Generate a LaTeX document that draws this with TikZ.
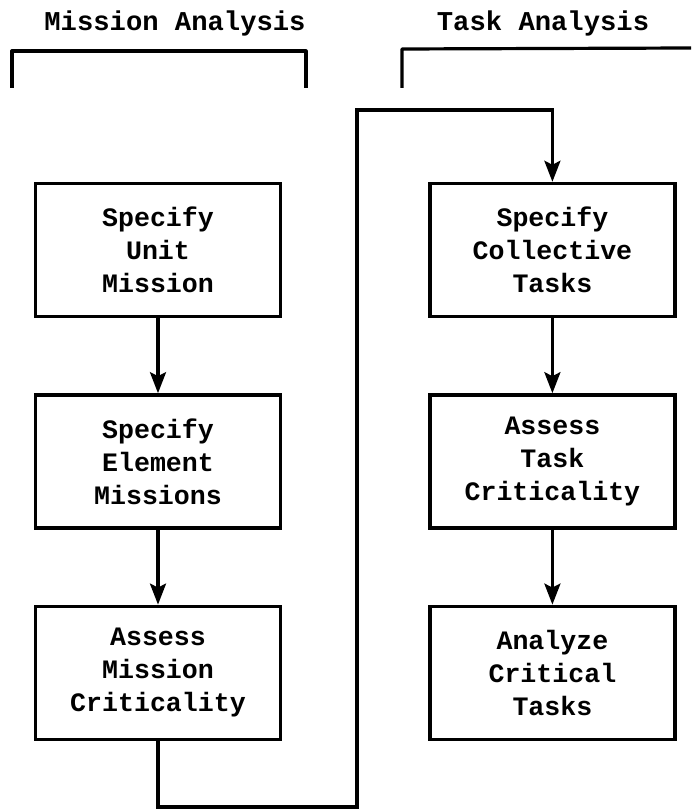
\documentclass[tikz,border=0pt]{standalone}
\usepackage{fontspec}
\usepackage{tikz}
\usetikzlibrary{arrows.meta,calc,positioning}
\newfontfamily\typewriter{Liberation Mono}
\tikzset{%
  arrow/.style={line width=1.6pt,-{Stealth[length=10.5pt,width=8pt,inset=2pt]}},
  box/.style={rectangle,draw,line width=1.7pt,minimum width=122.5pt,minimum height=66.5pt,align=center,font=\typewriter\bfseries\fontsize{13.3}{16.5}\selectfont},
  heading/.style={font=\typewriter\bfseries\fontsize{13.6}{16}\selectfont},
  bracket/.style={line width=1.6pt,line join=round},
}

\begin{document}
\begin{tikzpicture}[node distance=37.5pt and 73pt]
      \useasboundingbox (0,0) rectangle (345.5pt,-406pt);

      \node[heading] (missionHead) at (87.5pt,-11.5pt) {Mission Analysis};
      \node[heading] (taskHead) at (271.5pt,-11.5pt) {Task Analysis};
      \draw[bracket] (6pt,-44pt) -- (6pt,-25.5pt) -- (153pt,-25.5pt) -- (153pt,-44pt);
      \draw[bracket] (201pt,-44pt) -- (201pt,-24.5pt) -- (345.5pt,-24pt);

      \node[box] (unitMission) at (79pt,-125pt) {Specify\\Unit\\Mission};
      \node[box,below=of unitMission] (elementMissions) {Specify\\Element\\Missions};
      \node[box,below=of elementMissions] (missionCrit) {Assess\\Mission\\Criticality};
      \node[box,right=of unitMission] (collectiveTasks) {Specify\\Collective\\Tasks};
      \node[box,below=of collectiveTasks] (taskCrit) {Assess\\Task\\Criticality};
      \node[box,below=of taskCrit] (criticalTasks) {Analyze\\Critical\\Tasks};

      \coordinate (loopLow) at (178.5pt,-403.5pt);
      \coordinate (loopHigh) at (178.5pt,-55pt);

      \draw[arrow] (unitMission) -- (elementMissions);
      \draw[arrow] (elementMissions) -- (missionCrit);
      \draw[arrow] (missionCrit.south) |- (loopLow) -- (loopHigh) -| (collectiveTasks.north);
      \draw[arrow] (collectiveTasks) -- (taskCrit);
      \draw[arrow] (taskCrit) -- (criticalTasks);
    \end{tikzpicture}
\end{document}
